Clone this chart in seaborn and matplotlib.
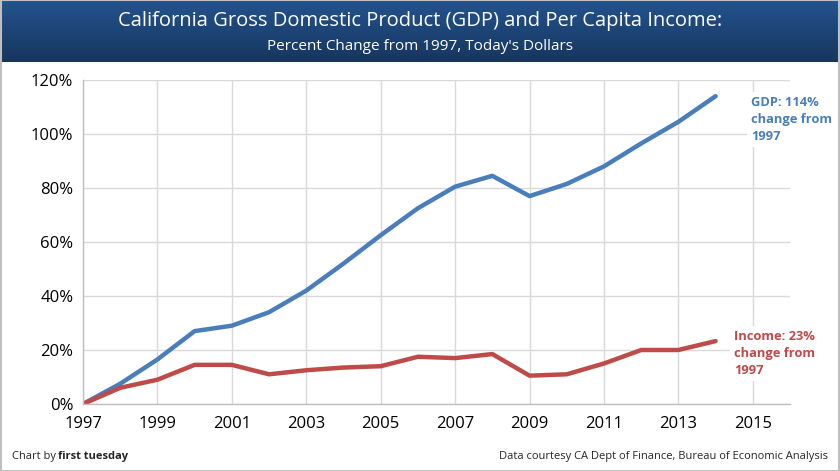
import numpy as np
import pandas as pd
import seaborn as sns
import matplotlib.pyplot as plt
from matplotlib.colors import LinearSegmentedColormap

# Values (percent change from 1997)
years = list(range(1997, 2015))
gdp = [0, 7.5, 16.5, 27, 29, 34, 42, 52, 62.5, 72.5, 80.5, 84.5, 77, 81.5, 88, 96.5, 104.5, 114]
income = [0, 6, 9, 14.5, 14.5, 11, 12.5, 13.5, 14, 17.5, 17, 18.5, 10.5, 11, 15, 20, 20, 23.3]
x_ticks = list(range(1997, 2016, 2))
y_ticks = [0, 20, 40, 60, 80, 100, 120]

df = pd.DataFrame({"year": years * 2,
                   "value": gdp + income,
                   "series": ["GDP"] * len(years) + ["Income"] * len(years)})

sns.set_theme(style="whitegrid")
plt.rcParams["font.family"] = ["Open Sans", "DejaVu Sans"]

blue = "#4a7ebb"
red = "#be4b48"

fig = plt.figure(figsize=(8.4, 4.71), dpi=100)

# banner with gradient
ban = fig.add_axes([0, 1 - 62 / 471, 1, 62 / 471])
grad = np.linspace(0, 1, 100).reshape(-1, 1)
cmap = LinearSegmentedColormap.from_list("ban", ["#23538f", "#17365d"])
ban.imshow(grad, aspect="auto", cmap=cmap, extent=[0, 1, 0, 1], origin="upper")
ban.set_axis_off()
fig.text(0.5, 1 - 21 / 471, "California Gross Domestic Product (GDP) and Per Capita Income:",
         color="white", fontsize=14.5, ha="center", va="center")
fig.text(0.5, 1 - 46 / 471, "Percent Change from 1997, Today's Dollars",
         color="white", fontsize=11, ha="center", va="center")

ax = fig.add_axes([83 / 840, 1 - 404 / 471, (790 - 83) / 840, (404 - 80) / 471])
sns.lineplot(data=df, x="year", y="value", hue="series",
             palette={"GDP": blue, "Income": red}, linewidth=3.2,
             legend=False, ax=ax)
ax.set_xlim(1997, 2016)
ax.set_ylim(0, 120)
ax.set_xticks(x_ticks)
ax.set_yticks(y_ticks)
ax.set_yticklabels([f"{v}%" for v in y_ticks])
ax.set_xlabel("")
ax.set_ylabel("")
ax.grid(True, color="#d9d9d9", linewidth=1)
for s in ["top", "right"]:
    ax.spines[s].set_visible(False)
for s in ["left", "bottom"]:
    ax.spines[s].set_color("#bfbfbf")
    ax.spines[s].set_linewidth(1)
ax.tick_params(axis="both", labelsize=12, colors="#bfbfbf", labelcolor="black",
               length=5, width=1, direction="out", pad=2)
ax.tick_params(axis="x", pad=4)

ax.text(2014.95, 114, "GDP: 114%\nchange from\n1997", color=blue, fontsize=9.3,
        fontweight="bold", va="top", ha="left", linespacing=1.4,
        bbox=dict(facecolor="white", edgecolor="none", pad=3))
ax.text(2014.5, 27.3, "Income: 23%\nchange from\n1997", color=red, fontsize=9.3,
        fontweight="bold", va="top", ha="left", linespacing=1.4,
        bbox=dict(facecolor="white", edgecolor="none", pad=3))

fig.text(12 / 840, 1 - 457 / 471, "Chart by ", fontsize=8, ha="left", va="center")
fig.text(58 / 840, 1 - 457 / 471, "first tuesday", fontsize=8, fontweight="bold",
         ha="left", va="center")
fig.text(828 / 840, 1 - 456 / 471,
         "Data courtesy CA Dept of Finance, Bureau of Economic Analysis",
         fontsize=8, ha="right", va="center")

# light frame around the figure
fig.patches.append(plt.Rectangle((0.001, 0.001), 0.998, 0.998, transform=fig.transFigure,
                                 fill=False, edgecolor="#bfbfbf", linewidth=1.5))

fig.savefig("out.png", dpi=100)
